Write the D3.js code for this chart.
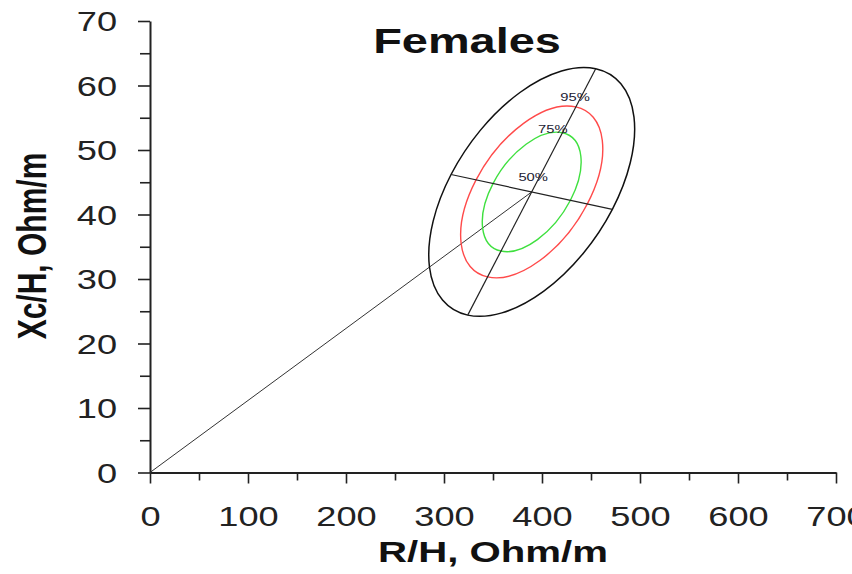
<!DOCTYPE html>
<html>
<head>
<meta charset="utf-8">
<script src="https://cdn.jsdelivr.net/npm/d3@7"></script>
<style>
  body { margin: 0; background: #fff; }
  svg { display: block; font-family: "Liberation Sans", Arial, sans-serif; }
</style>
</head>
<body>
<div id="chart"></div>
<script>
var width = 852;
var height = 574;
var stretch = 1.34; // the original image is wider than tall, text looks stretched

// axis ticks
var xTicks = [0, 50, 100, 150, 200, 250, 300, 350, 400, 450, 500, 550, 600, 650, 700];
var yTicks = [0, 5, 10, 15, 20, 25, 30, 35, 40, 45, 50, 55, 60, 65, 70];

// mean point of R/H and Xc/H (Ohm/m)
var center = [389.5, 43.5];
// half axes of the 95% ellipse, as vectors in data units
var axisMajor = [65.3, 19.1];
var axisMinor = [82.3, -2.7];

// tolerance ellipses
var levels = ["50%", "75%", "95%"];
var levelScale = [0.48, 0.69, 1.0];
var levelColor = ["#3fe03f", "#ff4a4a", "#111111"];
var labelR = [391, 411, 433.7];
var labelXc = [45.2, 52.6, 57.6];

var x = d3.scaleLinear().domain([0, 700]).range([150, 836]);
var y = d3.scaleLinear().domain([0, 70]).range([472.5, 21]);

var svg = d3
    .select("#chart")
    .append("svg")
    .attr("width", width)
    .attr("height", height);

// x axis
var xAxis = svg
    .append("g")
    .attr("transform", `translate(0, ${y(0)})`)
    .call(
        d3.axisBottom(x)
            .tickValues(xTicks)
            .tickSizeOuter(0)
            .tickFormat((d) => (d % 100 == 0 ? d : ""))
    );
xAxis.select(".domain").attr("stroke", "#222").attr("stroke-width", 2);
xAxis.selectAll(".tick line")
    .attr("stroke", "#222")
    .attr("stroke-width", 1.6)
    .attr("y2", (d) => (d % 100 == 0 ? 11 : 8));
xAxis.selectAll(".tick text")
    .attr("y", 0)
    .attr("dy", 0)
    .attr("transform", `translate(0, 53) scale(${stretch}, 1)`)
    .attr("font-size", 27)
    .attr("fill", "#222");

// y axis
var yAxis = svg
    .append("g")
    .attr("transform", `translate(${x(0)}, 0)`)
    .call(
        d3.axisLeft(y)
            .tickValues(yTicks)
            .tickSizeOuter(0)
            .tickFormat((d) => (d % 10 == 0 ? d : ""))
    );
yAxis.select(".domain").attr("stroke", "#222").attr("stroke-width", 2);
yAxis.selectAll(".tick line")
    .attr("stroke", "#222")
    .attr("stroke-width", 1.6)
    .attr("x2", (d) => (d % 10 == 0 ? -12 : -10));
yAxis.selectAll(".tick text")
    .attr("x", 0)
    .attr("dy", "0.36em")
    .attr("transform", `translate(-33, 0) scale(${stretch}, 1)`)
    .attr("font-size", 27)
    .attr("fill", "#222");

// line from the origin to the mean
svg.append("line")
    .attr("x1", x(0))
    .attr("y1", y(0))
    .attr("x2", x(center[0]))
    .attr("y2", y(center[1]))
    .attr("stroke", "#333")
    .attr("stroke-width", 1);

// ellipses: a unit circle mapped by the two half axes
var cx = x(center[0]);
var cy = y(center[1]);
levels.forEach(function (lev, i) {
    var s = levelScale[i];
    var ax = x(center[0] + axisMajor[0] * s) - cx;
    var ay = y(center[1] + axisMajor[1] * s) - cy;
    var bx = x(center[0] + axisMinor[0] * s) - cx;
    var by = y(center[1] + axisMinor[1] * s) - cy;
    svg.append("circle")
        .attr("r", 1)
        .attr("fill", "none")
        .attr("stroke", levelColor[i])
        .attr("stroke-width", i == 2 ? 1.5 : 1.4)
        .attr("vector-effect", "non-scaling-stroke")
        .attr("transform", `matrix(${ax},${ay},${bx},${by},${cx},${cy})`);
});

// axes of the outer ellipse
[axisMajor, axisMinor].forEach(function (v) {
    svg.append("line")
        .attr("x1", x(center[0] - v[0]))
        .attr("y1", y(center[1] - v[1]))
        .attr("x2", x(center[0] + v[0]))
        .attr("y2", y(center[1] + v[1]))
        .attr("stroke", "#222")
        .attr("stroke-width", 1.2);
});

// level labels
levels.forEach(function (lev, i) {
    svg.append("text")
        .attr("text-anchor", "middle")
        .attr("transform", `translate(${x(labelR[i])}, ${y(labelXc[i])}) scale(${stretch}, 1)`)
        .attr("font-size", 11)
        .attr("fill", "#223")
        .text(lev);
});

// title and axis titles
svg.append("text")
    .attr("text-anchor", "middle")
    .attr("transform", `translate(467, 53) scale(${stretch}, 1)`)
    .attr("font-size", 35)
    .attr("font-weight", "bold")
    .attr("fill", "#111")
    .text("Females");

svg.append("text")
    .attr("text-anchor", "middle")
    .attr("transform", `translate(493, 562) scale(${stretch}, 1)`)
    .attr("font-size", 30)
    .attr("font-weight", "bold")
    .attr("fill", "#111")
    .text("R/H, Ohm/m");

svg.append("text")
    .attr("text-anchor", "middle")
    .attr("transform", `translate(46, 246) scale(${stretch}, 1) rotate(-90)`)
    .attr("font-size", 30)
    .attr("font-weight", "bold")
    .attr("fill", "#111")
    .text("Xc/H, Ohm/m");
</script>
</body>
</html>
